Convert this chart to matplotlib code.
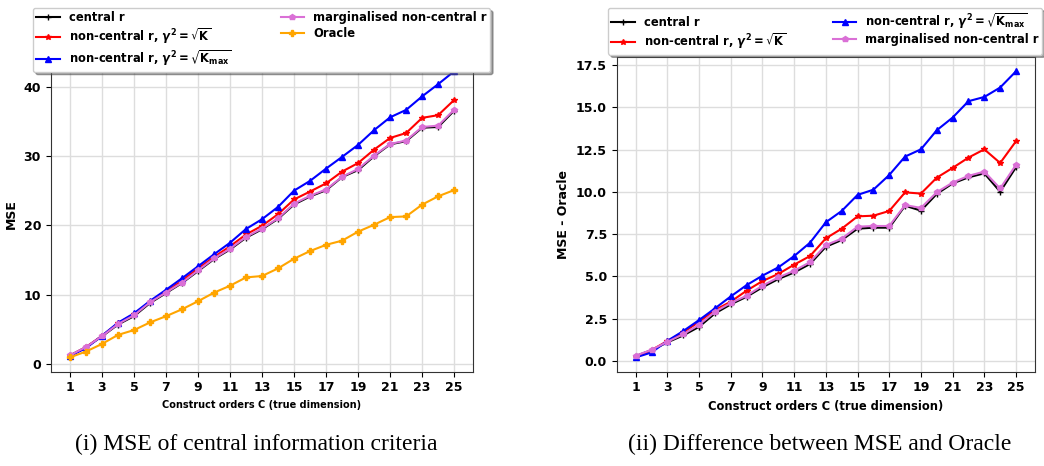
import numpy as np
import matplotlib
matplotlib.use("Agg")
import matplotlib.pyplot as plt

plt.rcParams["font.family"] = "DejaVu Sans"
plt.rcParams["font.weight"] = "bold"
plt.rcParams["axes.labelweight"] = "bold"

# construct orders C (true dimension)
orders = np.arange(1, 26)

# MSE per criterion
mse_central = [1.24, 2.43, 3.99, 5.70, 6.91, 8.80, 10.24, 11.69, 13.41, 15.14, 16.53, 18.23, 19.45,
               20.95, 23.02, 24.18, 25.08, 26.98, 27.99, 29.98, 31.70, 32.16, 34.10, 34.21, 36.56]
mse_noncentral_k = [1.21, 2.43, 4.07, 5.88, 7.21, 9.00, 10.40, 12.05, 13.78, 15.44, 16.99, 18.70, 19.95,
                    21.62, 23.75, 24.89, 26.07, 27.77, 29.00, 30.94, 32.62, 33.33, 35.52, 35.91, 38.10]
mse_noncentral_kmax = [1.16, 2.29, 4.08, 5.96, 7.31, 9.10, 10.71, 12.38, 14.10, 15.83, 17.50, 19.49, 20.90,
                       22.67, 25.02, 26.43, 28.20, 29.89, 31.62, 33.75, 35.60, 36.67, 38.62, 40.38, 42.24]
mse_marginalised = [1.26, 2.45, 4.02, 5.77, 7.03, 8.90, 10.32, 11.75, 13.51, 15.23, 16.63, 18.34, 19.55,
                    21.03, 23.14, 24.28, 25.18, 27.02, 28.15, 30.08, 31.75, 32.25, 34.20, 34.40, 36.70]
mse_oracle = [0.96, 1.80, 2.90, 4.20, 4.90, 6.00, 6.90, 7.90, 9.06, 10.30, 11.30, 12.50, 12.70,
              13.80, 15.20, 16.30, 17.20, 17.80, 19.10, 20.10, 21.20, 21.30, 23.00, 24.20, 25.10]

labels = ["central r",
          r"non-central r, $\mathit{\gamma}^2=\sqrt{\mathrm{K}}$",
          r"non-central r, $\mathit{\gamma}^2=\sqrt{\mathrm{K}_{\mathrm{max}}}$",
          "marginalised non-central r",
          "Oracle"]
series = [mse_central, mse_noncentral_k, mse_noncentral_kmax, mse_marginalised, mse_oracle]
colors = ["black", "red", "blue", "orchid", "orange"]
markers = ["+", "*", "^", "p", "P"]

fig = plt.figure(figsize=(10.44, 4.66), dpi=100)
ax1 = fig.add_axes([0.0486, 0.2024, 0.4048, 0.6753])
ax2 = fig.add_axes([0.5907, 0.2024, 0.4007, 0.6753])

oracle = np.array(mse_oracle)
for vals, lab, col, mk in zip(series, labels, colors, markers):
    ax1.plot(orders, vals, color=col, marker=mk, markersize=4, linewidth=1.5, label=lab)
    if lab != "Oracle":
        ax2.plot(orders, np.array(vals) - oracle, color=col, marker=mk, markersize=4,
                 linewidth=1.5, label=lab)

for ax in (ax1, ax2):
    ax.set_xticks(orders[::2])
    ax.grid(True, color="#dddddd", linewidth=1)
    ax.set_axisbelow(True)
    ax.tick_params(labelsize=9)
    for sp in ax.spines.values():
        sp.set_color("#333333")

ax1.set_xlabel("Construct orders C (true dimension)", fontsize=7)
ax1.set_ylabel("MSE", fontsize=9)
ax2.set_xlabel("Construct orders C (true dimension)", fontsize=8.3)
ax2.set_ylabel("MSE - Oracle", fontsize=9)

leg_kw = dict(ncol=2, shadow=True, fancybox=True, framealpha=1, borderaxespad=0,
              labelspacing=0.2, borderpad=0.3,
              prop={"size": 8.3, "weight": "bold"}, bbox_transform=fig.transFigure,
              loc="upper left")
ax1.legend(bbox_to_anchor=(33 / 1044, 1 - 8 / 466), columnspacing=4.3, **leg_kw)
ax2.legend(bbox_to_anchor=(608 / 1044, 1 - 8 / 466), columnspacing=4.1, **leg_kw)

fig.text(0.245, 0.047, "(i) MSE of central information criteria",
         family="Liberation Serif", fontsize=17, fontweight="normal", ha="center", va="center")
fig.text(0.785, 0.047, "(ii) Difference between MSE and Oracle",
         family="Liberation Serif", fontsize=17, fontweight="normal", ha="center", va="center")

fig.savefig("out.png", dpi=100)
